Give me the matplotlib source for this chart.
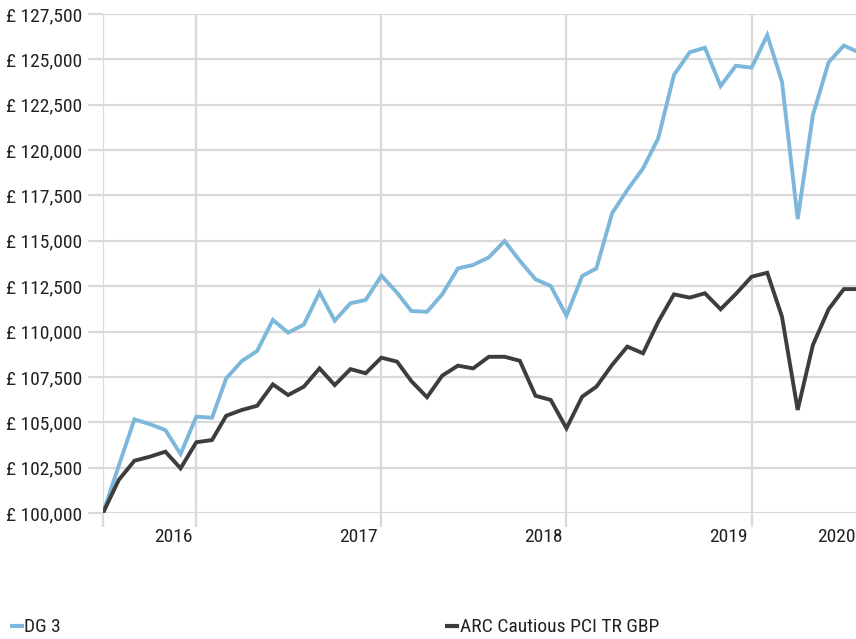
import pandas as pd
import matplotlib.pyplot as plt
from matplotlib import font_manager
from matplotlib.lines import Line2D
from matplotlib.ticker import FuncFormatter

# month-end dates, June 2016 to July 2020
dates = pd.date_range("2016-06-30", "2020-07-31", freq="ME")

dg3 = [
    100000, 102600, 105160, 104900, 104570, 103250, 105310, 105250,
    107420, 108380, 108930, 110640, 109940, 110380, 112160, 110600,
    111560, 111740, 113080, 112140, 111130, 111090, 112050, 113480,
    113670, 114090, 114990, 113900, 112880, 112510, 110870, 113060,
    113480, 116520, 117800, 118990, 120650, 124140, 125390, 125640,
    123530, 124650, 124540, 126340, 123770, 116200, 121930, 124840,
    125760, 125370,
]

arc = [
    100000, 101820, 102880, 103100, 103380, 102460, 103900, 104020,
    105360, 105680, 105910, 107090, 106500, 106960, 107970, 107050,
    107930, 107700, 108560, 108340, 107270, 106380, 107570, 108120,
    107970, 108610, 108610, 108390, 106460, 106230, 104670, 106410,
    106960, 108160, 109170, 108800, 110540, 112050, 111870, 112110,
    111230, 112070, 113020, 113240, 110820, 105680, 109260, 111230,
    112340, 112340,
]

series_names = ["DG 3", "ARC Cautious PCI TR GBP"]
series_colors = ["#7db7db", "#3d3d3d"]

y_ticks = list(range(100000, 127501, 2500))
grid_dates = pd.to_datetime(["2016-06-30", "2016-12-31", "2017-12-31",
                             "2018-12-31", "2019-12-31"])
year_labels = ["2016", "2017", "2018", "2019", "2020"]
year_label_dates = pd.to_datetime(["2016-12-23", "2017-12-23", "2018-12-23",
                                   "2019-12-23", "2020-07-24"])


def pick_condensed_font():
    # look for a narrow / condensed regular face among the installed fonts
    wanted = ["Liberation Sans Narrow", "Roboto Condensed", "Noto Sans",
              "Open Sans", "DejaVu Sans", "Noto Sans Condensed",
              "Open Sans Condensed", "DejaVu Sans Condensed"]
    found = []
    for f in font_manager.fontManager.ttflist:
        fn = f.fname.replace("-", "").replace("_", "")
        narrow = ("Narrow" in fn or "Condensed" in fn) and "Extra" not in fn \
            and "Semi" not in fn and "Ultra" not in fn
        if narrow and f.style == "normal" and f.weight in (400, "normal", "regular"):
            if f.name in wanted:
                found.append((wanted.index(f.name), f.name, f.stretch))
    if found:
        found.sort()
        return found[0][1], found[0][2]
    return "Roboto", "normal"


font, stretch = pick_condensed_font()
plt.rcParams["font.family"] = [font, "DejaVu Sans"]
plt.rcParams["font.stretch"] = stretch
plt.rcParams["font.size"] = 14

grid_col = "#d9d9d9"
text_col = "#222222"

fig = plt.figure(figsize=(8.56, 6.39), dpi=100)
ax = fig.add_axes([103 / 856, 1 - 513 / 639, 753 / 856, 499 / 639])

ax.plot(dates, dg3, color=series_colors[0], lw=2.8, solid_joinstyle="miter", zorder=3)
ax.plot(dates, arc, color=series_colors[1], lw=2.8, solid_joinstyle="miter", zorder=3)

ax.set_xlim(pd.Timestamp("2016-06-30"), pd.Timestamp("2020-07-19"))
ax.set_ylim(100000, 127500)

ax.set_yticks(y_ticks)
ax.yaxis.set_major_formatter(FuncFormatter(lambda v, p: f"£ {v:,.0f}"))
ax.set_xticks(grid_dates)
ax.set_xticklabels([""] * len(grid_dates))
ax.set_xticks(year_label_dates, minor=True)
ax.set_xticklabels(year_labels, minor=True)
for lab in ax.get_xminorticklabels():
    lab.set_horizontalalignment("right")

ax.grid(True, color=grid_col, lw=1.6, zorder=0)
ax.tick_params(axis="y", length=10.8, width=1.6, color=grid_col, pad=4.3,
               labelcolor=text_col)
ax.tick_params(axis="x", which="major", length=10, width=1.6, color=grid_col)
ax.tick_params(axis="x", which="minor", length=0, pad=10.5, labelcolor=text_col)
for s in ax.spines.values():
    s.set_visible(False)

# legend along the bottom
legend_x = [10, 445]
for x0, name, col in zip(legend_x, series_names, series_colors):
    fig.add_artist(Line2D([x0 / 856, (x0 + 14) / 856], [1 - 626 / 639] * 2,
                          color=col, lw=3, solid_capstyle="butt"))
    fig.text((x0 + 14.5) / 856, 1 - 627 / 639, name, color=text_col,
             va="center", ha="left")

fig.savefig("out.png", dpi=100)
